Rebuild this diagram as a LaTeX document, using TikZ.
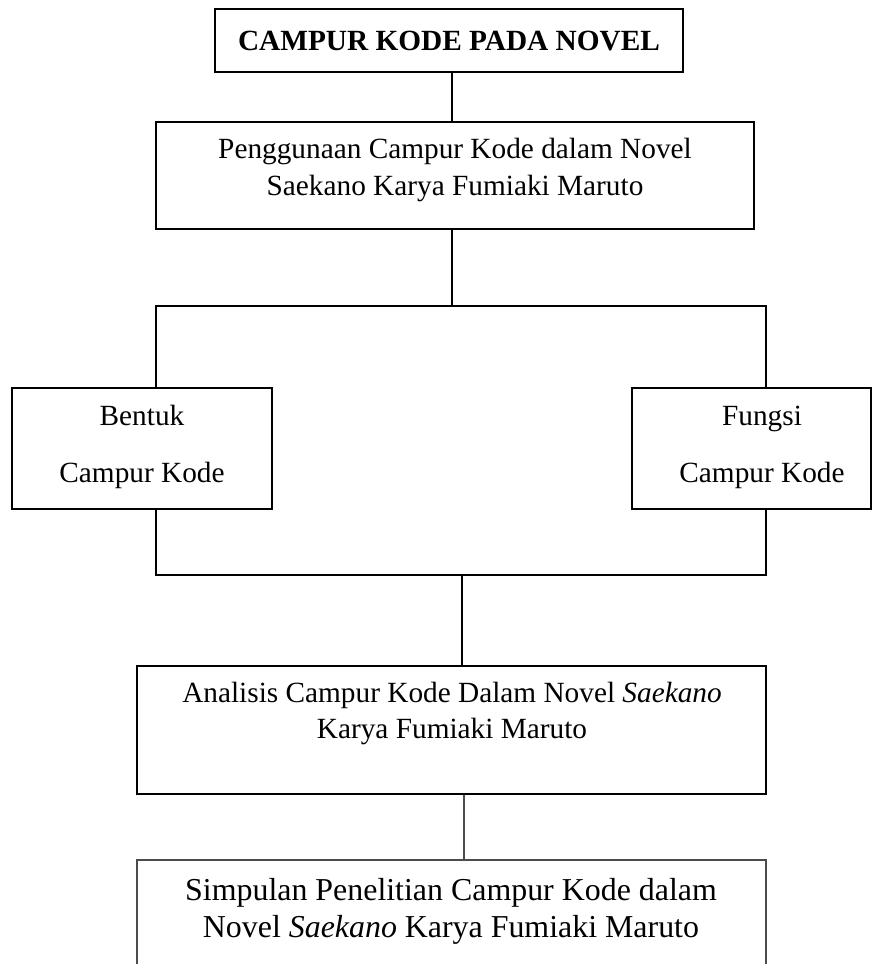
\documentclass[tikz,border=0pt]{standalone}
\usepackage{fontspec}
\setmainfont{Liberation Serif}
\begin{document}
\begin{tikzpicture}[x=1pt,y=-1pt,
  box/.style={draw=black, line width=1.6pt, rectangle, inner sep=0pt},
  gbox/.style={draw=black!70, line width=1.3pt, rectangle, inner sep=0pt},
  conn/.style={draw=black, line width=1.6pt},
  gconn/.style={draw=black!70, line width=1.3pt},
  txt/.style={anchor=base, inner sep=0pt, font=\fontsize{29.3}{37}\selectfont},
  btxt/.style={anchor=base, inner sep=0pt, font=\fontsize{29.3}{37}\selectfont\bfseries},
  stxt/.style={anchor=base, inner sep=0pt, font=\fontsize{31.9}{39}\selectfont}]
\clip (0,0) rectangle (880,964);
\fill[white] (0,0) rectangle (880,964);

% boxes
\node[box, minimum width=468pt, minimum height=63pt] (title) at (449,40.5) {};
\node[box, minimum width=598pt, minimum height=107pt] (use) at (455,175.5) {};
\node[box, minimum width=260pt, minimum height=121pt] (bentuk) at (142,448.5) {};
\node[box, minimum width=239pt, minimum height=121pt] (fungsi) at (751.5,448.5) {};
\node[box, minimum width=629pt, minimum height=128pt] (analisis) at (451.5,730) {};
\node[gbox, minimum width=629pt, minimum height=160pt] (simpulan) at (451.5,940) {};

% texts
\node[btxt] (t0) at (449,50) {CAMPUR KODE PADA NOVEL};
\node[txt] (t1a) at (455,158) {Penggunaan Campur Kode dalam Novel};
\node[txt] (t1b) at (455,195) {Saekano Karya Fumiaki Maruto};
\node[txt] (t2a) at (142,425) {Bentuk};
\node[txt] (t2b) at (142,482) {Campur Kode};
\node[txt] (t3a) at (762,425) {Fungsi};
\node[txt] (t3b) at (762,482) {Campur Kode};
\node[txt] (t4a) at (452,702) {Analisis Campur Kode Dalam Novel \textit{Saekano}};
\node[txt] (t4b) at (452,738) {Karya Fumiaki Maruto};
\node[stxt] (t5a) at (451,900) {Simpulan Penelitian Campur Kode dalam};
\node[stxt] (t5b) at (451,937) {Novel \textit{Saekano} Karya Fumiaki Maruto};

% junction coordinates
\coordinate (j1) at (452,306);
\coordinate (l1) at (156,306);
\coordinate (r1) at (766,306);
\coordinate (j2) at (462,575);
\coordinate (l2) at (156,575);
\coordinate (r2) at (766,575);
\coordinate (j3) at (464,794);

% connectors
\draw[conn] (title.south -| j1) -- (use.north -| j1);
\draw[conn] (use.south -| j1) -- (j1);
\draw[conn] (bentuk.north -| l1) -- (l1) -- (r1) -- (fungsi.north -| r1);
\draw[conn] (bentuk.south -| l2) -- (l2) -- (r2) -- (fungsi.south -| r2);
\draw[conn] (j2) -- (analisis.north -| j2);
\draw[gconn] (analisis.south -| j3) -- (simpulan.north -| j3);
\end{tikzpicture}
\end{document}
